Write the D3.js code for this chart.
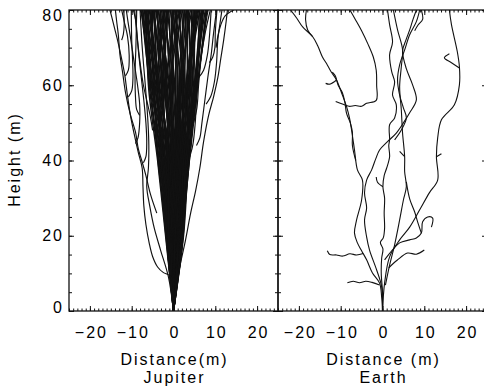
<!DOCTYPE html>
<html>
<head>
<meta charset="utf-8">
<script src="https://cdn.jsdelivr.net/npm/d3@7"></script>
<style>
  html, body { margin: 0; padding: 0; background: #fff; }
  svg { display: block; }
  text { font-family: 'Liberation Sans', Arial, sans-serif; font-size: 16px; letter-spacing: 2px; fill: #000; }
</style>
</head>
<body>
<svg id="chart" width="484" height="391"></svg>
<script>
const distTicks = [-20, -10, 0, 10, 20];
const heightTicks = [0, 20, 40, 60, 80];
const distDomain = [-25, 25];
const heightDomain = [0, 80];

// Jupiter: main channels, x (m) at the heights below (all start at the origin)
const jupCoreH = [0, 20, 40, 60, 80];
const jupCoreX = [
    [-1.8, -3.6, -5.8, -7.3], [-1.5, -3.2, -5.0, -6.6], [-1.2, -3.4, -5.5, -6.0],
    [-1.0, -2.5, -4.4, -7.0], [-0.9, -2.8, -4.0, -5.4], [-0.7, -1.9, -3.6, -6.2],
    [-0.6, -2.2, -4.8, -5.0], [-0.5, -1.5, -3.0, -4.6], [-0.4, -1.2, -3.3, -5.8],
    [-0.3, -1.7, -2.6, -4.0], [-0.2, -0.9, -2.1, -3.5], [-0.1, -1.1, -2.9, -3.0],
    [0.0, -0.6, -1.5, -4.3], [0.1, -0.3, -1.8, -2.4], [0.2, -0.1, -0.9, -1.8],
    [0.3, 0.2, -1.2, -3.2], [0.4, 0.5, -0.4, -1.1], [0.5, 0.0, -0.2, -0.6],
    [0.6, 0.8, 0.3, -1.5], [0.7, 0.4, 0.6, 0.0], [0.8, 1.1, 0.9, 0.7],
    [0.9, 1.4, 1.5, 0.3], [1.0, 0.9, 1.9, 1.4], [1.1, 1.7, 2.4, 2.0],
    [1.2, 2.0, 1.3, 2.7], [1.3, 1.5, 2.8, 1.0], [1.4, 2.3, 3.2, 3.4],
    [1.5, 2.6, 2.1, 4.0], [1.7, 2.1, 3.6, 4.7], [1.8, 2.9, 4.0, 3.6],
    [1.9, 3.2, 4.5, 5.4], [2.0, 2.7, 3.4, 6.0], [2.1, 3.5, 5.0, 6.6],
    [2.2, 3.0, 4.8, 5.0], [2.3, 3.4, 5.4, 7.2], [2.4, 3.6, 5.7, 8.0],
    [-1.6, -2.0, -3.9, -2.0], [-0.8, -0.4, -2.4, -5.0], [0.3, -0.8, -3.8, -6.8],
    [1.0, 2.4, 2.0, -0.8], [-1.3, -2.6, -2.0, 0.8], [0.6, 1.2, 3.0, 5.8],
    [-0.4, 0.6, 1.8, 3.0], [1.6, 0.3, -0.8, 2.2],
    [-1.7, -3.0, -5.2, -7.8], [-1.4, -3.7, -4.6, -5.6], [-1.1, -2.0, -5.3, -6.9],
    [-0.9, -3.0, -3.8, -4.8], [-0.8, -2.4, -5.6, -7.6], [-0.6, -1.4, -4.2, -6.4],
    [-0.5, -2.6, -3.4, -3.8], [-0.4, -0.8, -2.3, -4.9], [-0.3, -2.0, -4.5, -5.2],
    [-0.2, -1.3, -1.6, -2.8], [-0.1, -0.5, -3.6, -4.5], [0.0, -1.4, -2.5, -1.2],
    [0.1, 0.1, -1.0, -3.7], [0.2, -0.4, -0.6, -2.2], [0.3, 0.7, 0.0, -0.3],
    [0.4, -0.2, -2.0, -1.4], [0.5, 0.9, 1.1, -0.1], [0.6, 0.3, 1.6, 2.5],
    [0.7, 1.3, 0.4, 1.7], [0.8, 0.6, 2.2, 0.4], [0.9, 1.8, 2.6, 3.1],
    [1.0, 1.2, 3.4, 2.6], [1.1, 2.2, 1.7, 4.4], [1.2, 1.6, 3.9, 4.9],
    [1.3, 2.8, 3.0, 5.6], [1.4, 1.9, 4.2, 3.3], [1.5, 3.1, 3.6, 6.3],
    [1.6, 2.5, 5.2, 7.0], [1.7, 3.3, 4.4, 5.2], [1.8, 2.4, 4.9, 7.6],
    [1.9, 3.7, 5.5, 6.8], [2.0, 3.0, 3.9, 4.4], [2.1, 3.8, 5.8, 7.8],
    [2.2, 2.9, 5.3, 6.2], [-1.9, -3.8, -6.0, -6.4], [-1.0, -3.5, -5.0, -7.4],
    [0.4, 1.8, 0.2, -2.6], [-0.6, 0.4, -0.7, 1.2], [1.1, 0.0, -1.6, -4.1],
    [-1.2, -1.2, -2.8, -1.6]
];

// Jupiter: side branches, [x, height] in m
const jupBranches = [
    [[0.1, 4], [-0.4, 8.6], [-1.2, 9.6], [-2.4, 10.2], [-3.8, 11.7], [-5.0, 14.5], [-5.8, 18], [-6.6, 23], [-7.1, 28], [-7.3, 33], [-7.5, 38], [-8.4, 42], [-9.4, 47], [-10.3, 52], [-11.1, 58], [-11.7, 63], [-12.6, 68], [-13.5, 72.5], [-14.4, 76.5], [-15.2, 80]],
    [[-9.1, 44.5], [-8.5, 46], [-8.1, 50], [-8.1, 55], [-8.6, 60], [-9.4, 66], [-10.2, 72], [-10.9, 77], [-11.3, 80]],
    [[-4.0, 26], [-5.5, 31], [-6.6, 36], [-7.6, 40], [-8.4, 43], [-9.1, 47.6], [-10.3, 52.1], [-11.5, 58.2], [-12.2, 63.6], [-12.8, 68], [-13.2, 73.4], [-13.6, 77], [-13.9, 80]],
    [[-11.5, 62.5], [-10.8, 64], [-10.6, 68], [-11.0, 73], [-11.8, 77], [-12.4, 80]],
    [[-10.8, 56.9], [-10.0, 58.5], [-9.7, 62], [-9.8, 67], [-10.0, 72], [-10.1, 80]],
    [[-7.2, 39.4], [-6.6, 41], [-6.4, 45], [-6.6, 50], [-7.1, 56], [-7.7, 62], [-8.3, 68], [-8.8, 74], [-9.3, 80]],
    [[0, 0], [-1.2, 9], [-3.1, 16.2], [-4.6, 22], [-5.7, 28], [-6.4, 33], [-6.0, 38], [-5.9, 44], [-6.1, 50], [-6.6, 58], [-7.2, 66], [-7.6, 72], [-8.0, 80]],
    [[-12.4, 72], [-12.0, 73.5], [-11.8, 76], [-11.9, 80]],
    [[-5.0, 48], [-5.6, 52], [-6.4, 56], [-7.2, 60], [-8.0, 66], [-8.6, 72], [-9.0, 77], [-9.6, 80]],
    [[-8.1, 52], [-8.8, 53.5], [-9.1, 57], [-9.2, 63], [-9.0, 70], [-8.8, 80]],
    [[0, 0], [0.6, 6], [1.7, 12.8], [2.9, 19], [4.1, 26], [5.3, 32], [6.3, 38], [7.2, 45], [8.4, 52], [9.6, 57], [10.6, 62], [11.3, 67], [12.0, 72], [12.6, 77], [12.9, 80]],
    [[5.5, 44], [6.3, 46], [6.8, 50], [7.5, 56], [8.2, 62], [9.0, 68], [9.6, 74], [10.3, 80]],
    [[7.8, 55], [8.9, 57], [9.8, 61], [10.3, 66], [10.6, 72], [11.2, 77], [11.6, 80]],
    [[10.2, 70], [10.6, 73], [11.3, 76], [12.4, 78.5], [14.4, 80]],
    [[4.8, 50], [5.6, 54], [6.0, 60], [6.5, 66], [7.2, 72], [7.8, 77], [8.3, 80]],
    [[6.0, 62], [7.2, 64], [8.1, 68], [8.6, 73], [9.0, 80]],
    [[3.6, 40], [4.6, 44], [5.2, 50], [5.6, 58], [6.4, 66], [7.6, 74], [8.8, 80]],
    [[8.6, 66], [9.4, 67.5], [9.9, 70], [10.0, 74], [10.4, 80]],
    [[0, 0], [1.0, 10], [2.4, 25], [3.4, 35], [4.2, 45], [5.0, 55], [5.8, 65], [6.8, 80]]
];

// Earth: channels, [x, height] in m
const earthBranches = [
    [[0, 0], [-0.2, 3.7], [-0.7, 7.4], [-2.4, 10.1], [-3.8, 13.6], [-5.0, 16], [-6.0, 18.1], [-6.7, 20.7], [-6.2, 24.2], [-5.0, 29.5], [-4.8, 34.8], [-6.0, 37.5], [-6.7, 42.8], [-7.4, 48.1], [-7.9, 51.3], [-8.6, 54.3], [-9.8, 58.0], [-11.0, 61.4], [-12.3, 63.6], [-13.2, 65.4], [-14.4, 67.6], [-15.5, 70.5], [-16.7, 72.9], [-19.1, 75.5], [-20.5, 77.8], [-22.0, 80]],
    [[-16.7, 72.9], [-17.9, 74.7], [-18.4, 77.4], [-18.2, 80]],
    [[-6.4, 40], [-7.2, 44], [-7.2, 47.5], [-7.7, 50], [-8.6, 52.5], [-9.0, 55.5], [-9.6, 58], [-10.6, 60], [-11.3, 62.5], [-12.0, 63.5]],
    [[-11.0, 61.4], [-12.6, 60.3], [-13.6, 60.5]],
    [[-11.2, 55.7], [-9.6, 55], [-8.0, 54.4], [-6.5, 54.6], [-5.0, 54.4], [-3.8, 55.2], [-1.5, 56], [-1.4, 60], [-1.5, 64], [-2.2, 67.5], [-3.5, 71], [-5.0, 74.5], [-6.5, 77.5], [-7.8, 80]],
    [[0, 0], [-0.2, 6.4], [-1.4, 10.9], [-3.1, 16.2], [-3.8, 19.7], [-4.3, 24.2], [-3.8, 27.4], [-4.3, 31.4], [-3.8, 34.8], [-2.6, 37.5], [-1.6, 40.5], [-0.7, 42.8], [1.2, 45], [3.3, 47.3], [5.0, 50], [6.5, 52.7], [8.1, 56.1], [7.2, 60.1], [5.7, 64.4], [4.8, 69.1], [5.6, 72], [6.5, 74.7], [7.3, 77.5], [8.1, 80]],
    [[0, 0], [0.5, 7.4], [1.7, 14.4], [4.1, 18.9], [6.5, 22.3], [8.9, 26.9], [11.2, 31.4], [13.2, 34.8], [12.9, 41.0], [13.2, 46.0], [14.1, 50.8], [17.2, 54.8], [18.4, 60.1], [18.4, 64.9], [17.9, 68.9], [16.5, 76.1], [16.0, 80]],
    [[18.4, 64.6], [16.5, 66], [14.8, 67.3], [16.0, 68.4]],
    [[12.9, 41.0], [14.1, 41.8]],
    [[0, 0], [0, 5], [-0.3, 10], [-0.2, 14], [0.1, 16.5], [-0.5, 18.2], [0.2, 19.5], [0.5, 22], [0.4, 26], [0.5, 30], [0.1, 33], [0.4, 36], [1.0, 38], [1.7, 41], [1.5, 44], [1.7, 45.5], [1.7, 49.5], [2.9, 51.3], [3.3, 54.8], [2.4, 57.4], [2.9, 60.9], [2.2, 63.6], [1.7, 68.1], [2.4, 71.5], [1.7, 76.1], [1.2, 80]],
    [[0.1, 33], [-1.2, 34.2], [-1.5, 35.6]],
    [[0.7, 6.9], [1.7, 12.2], [2.9, 17.6], [4.1, 24.2], [5.0, 29.5], [5.7, 33], [5.3, 37], [5.3, 41], [4.8, 47.3], [4.5, 53.5], [4.1, 59.6], [4.5, 64.9], [4.8, 69.4], [3.6, 74.7], [2.6, 80]],
    [[5.7, 34.3], [6.5, 29.8], [7.7, 26.3], [8.4, 23.7], [9.3, 20.7]],
    [[0.5, 13.6], [2.2, 16], [4.1, 18.1], [6.5, 18.9], [8.1, 19.4], [9.3, 20.7], [9.6, 23.7], [10.8, 25], [12.0, 24.7], [11.7, 22.3]],
    [[1.5, 11.5], [3.5, 13.5], [6.0, 15.4], [8.1, 15.1], [10.0, 16.2]],
    [[2.9, 45.5], [4.5, 48.1], [5.7, 51.3], [5.0, 54], [4.1, 57.4], [3.6, 61.4], [4.1, 65.4], [5.3, 69.4], [6.5, 73.4], [8.1, 76.9], [8.9, 80]],
    [[7.7, 74.5], [8.5, 76], [9.6, 77.5], [9.3, 80]],
    [[5.3, 41], [4.1, 42.4]],
    [[-0.7, 6.9], [-2.5, 7.6], [-4.0, 7.9], [-5.5, 7.5], [-7.0, 7.9], [-8.4, 7.5]],
    [[-4.6, 15.3], [-6.2, 14.9], [-7.8, 15.2], [-9.5, 14.6], [-11.0, 14.9], [-12.6, 15.0], [-13.2, 16.0]]
];

const jupiterCore = jupCoreX
    .map(row => [[0, jupCoreH[0]]].concat(row.map((x, i) => [x, jupCoreH[i + 1]])));

const panels = [
    { id: 'jup', left: 69, xLabel: 'Distance(m)', name: 'Jupiter', paths: jupiterCore, extra: jupBranches, yLabels: true },
    { id: 'earth', left: 278, xLabel: 'Distance (m)', name: 'Earth', paths: earthBranches, extra: [], yLabels: false }
];

const plotTop = 10;
const panelW = 209;
const panelH = 301;

const svg = d3.select('#chart');
const fmt = d => d < 0 ? '\u2212' + Math.abs(d) : `${d}`;

panels.forEach(p => {
    const x = d3.scaleLinear().domain(distDomain).range([0, panelW]);
    const y = d3.scaleLinear().domain(heightDomain).range([panelH, 0]);

    const g = svg.append('g').attr('transform', `translate(${p.left},${plotTop})`);

    g.append('clipPath')
        .attr('id', `clip-${p.id}`)
        .append('rect')
            .attr('width', panelW)
            .attr('height', panelH);

    const line = d3.line()
        .x(d => x(d[0]))
        .y(d => y(d[1]))
        .curve(d3.curveCatmullRom.alpha(0.5));

    const plot = g.append('g').attr('clip-path', `url(#clip-${p.id})`);

    plot.append('g')
        .selectAll('path')
        .data(p.paths)
        .enter()
        .append('path')
            .attr('d', line)
            .attr('fill', 'none')
            .attr('stroke', '#111')
            .attr('stroke-width', p.id === 'jup' ? 1.45 : 1.1)
            .attr('stroke-linejoin', 'round');

    plot.append('g')
        .selectAll('path')
        .data(p.extra)
        .enter()
        .append('path')
            .attr('d', line)
            .attr('fill', 'none')
            .attr('stroke', '#111')
            .attr('stroke-width', 1.15)
            .attr('stroke-linejoin', 'round');

    // ticks, all pointing inward
    const tickAxes = [
        [d3.axisBottom(x).tickValues(d3.range(-25, 26, 1)).tickSize(-2.5), `translate(0,${panelH})`],
        [d3.axisBottom(x).tickValues(distTicks).tickSize(-5), `translate(0,${panelH})`],
        [d3.axisTop(x).tickValues(d3.range(-25, 26, 1)).tickSize(-2.5), null],
        [d3.axisTop(x).tickValues(distTicks).tickSize(-5), null],
        [d3.axisLeft(y).tickValues(d3.range(0, 81, 5)).tickSize(-3), null],
        [d3.axisLeft(y).tickValues(heightTicks).tickSize(-5), null],
        [d3.axisRight(y).tickValues(d3.range(0, 81, 5)).tickSize(-3), `translate(${panelW},0)`],
        [d3.axisRight(y).tickValues(heightTicks).tickSize(-5), `translate(${panelW},0)`]
    ];
    tickAxes.forEach(([axis, tr]) => {
        const a = g.append('g').attr('transform', tr).call(axis.tickSizeOuter(0).tickFormat(''));
        a.select('.domain').remove();
        a.selectAll('line').attr('stroke', '#111').attr('stroke-width', 1);
    });

    g.append('rect')
        .attr('width', panelW)
        .attr('height', panelH)
        .attr('fill', 'none')
        .attr('stroke', '#111')
        .attr('stroke-width', 1.3);

    const xLab = g.append('g')
        .attr('transform', `translate(1,${panelH})`)
        .call(d3.axisBottom(x).tickValues(distTicks).tickSize(0).tickPadding(16).tickFormat(fmt))
        .attr('font-size', null)
        .attr('font-family', null);
    xLab.select('.domain').remove();

    if (p.yLabels) {
        const yLab = g.append('g')
            .call(d3.axisLeft(y).tickValues(heightTicks).tickSize(0).tickPadding(5).tickFormat(fmt))
            .attr('font-size', null)
            .attr('font-family', null);
        yLab.select('.domain').remove();
        yLab.selectAll('text')
            .attr('transform', d => d === 80 ? 'translate(0,5.5)' : d === 0 ? 'translate(0,-4)' : null);

        g.append('text')
            .attr('transform', `translate(${20 - p.left},${panelH / 2}) rotate(-90)`)
            .attr('text-anchor', 'middle')
            .attr('dx', 1)
            .text('Height (m)');
    }

    g.append('text')
        .attr('x', x(0) + 1)
        .attr('y', 355)
        .attr('text-anchor', 'middle')
        .text(p.xLabel);

    g.append('text')
        .attr('x', x(0) + 1)
        .attr('y', 373)
        .attr('text-anchor', 'middle')
        .text(p.name);
});
</script>
</body>
</html>
